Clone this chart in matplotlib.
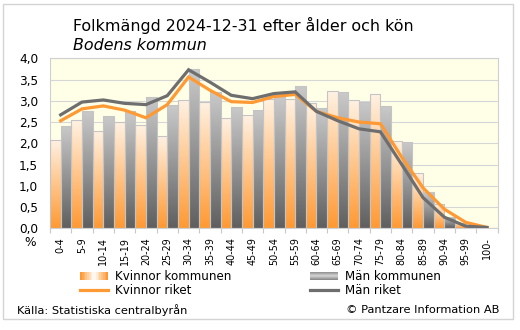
import matplotlib
matplotlib.use("Agg")
import matplotlib.pyplot as plt
import numpy as np
from matplotlib.colors import to_rgb
from matplotlib.legend_handler import HandlerBase
from matplotlib.patches import Rectangle
from matplotlib.lines import Line2D

# age groups and shares (%)
age_groups = ["0-4", "5-9", "10-14", "15-19", "20-24", "25-29", "30-34", "35-39",
              "40-44", "45-49", "50-54", "55-59", "60-64", "65-69", "70-74", "75-79",
              "80-84", "85-89", "90-94", "95-99", "100-"]

women_kommun = [2.08, 2.54, 2.29, 2.50, 2.43, 2.17, 3.03, 2.97, 2.59, 2.67, 3.04,
                3.05, 2.96, 3.23, 3.03, 3.17, 2.05, 1.31, 0.57, 0.12, 0.02]
men_kommun = [2.41, 2.76, 2.64, 2.75, 3.09, 2.89, 3.74, 3.21, 2.86, 2.78, 3.09,
              3.35, 2.84, 3.20, 2.98, 2.88, 2.03, 0.85, 0.27, 0.04, 0.00]
women_riket = [2.53, 2.81, 2.88, 2.78, 2.60, 2.91, 3.56, 3.25, 2.98, 2.96, 3.10,
               3.15, 2.75, 2.60, 2.50, 2.46, 1.67, 0.95, 0.45, 0.14, 0.02]
men_riket = [2.67, 2.97, 3.02, 2.94, 2.91, 3.12, 3.73, 3.44, 3.13, 3.05, 3.17,
             3.21, 2.75, 2.53, 2.34, 2.27, 1.50, 0.72, 0.26, 0.05, 0.02]

yticks = [0.0, 0.5, 1.0, 1.5, 2.0, 2.5, 3.0, 3.5, 4.0]

W_TOP, W_BOT = "#fff2e4", "#ff9933"
M_TOP, M_BOT = "#cacaca", "#5f5f5f"
ORANGE = "#ff9933"
GRAY = "#6e6e6e"
EDGE = "#c4c4c4"


def gradient(top, bottom, n=256):
    t = np.linspace(0, 1, n)[:, None]
    a, b = np.array(to_rgb(bottom)), np.array(to_rgb(top))
    return (a + (b - a) * t)[:, None, :]


def fill_bars(ax, bars, top, bottom):
    img = gradient(top, bottom)
    for p in bars:
        x, w, h = p.get_x(), p.get_width(), p.get_height()
        if h <= 0:
            continue
        im = ax.imshow(img, extent=[x, x + w, 0, h], origin="lower",
                       aspect="auto", zorder=2, interpolation="bilinear")
        im.set_clip_path(p)


class GradientHandler(HandlerBase):
    # legend key: light in the middle, darker towards the edges
    def __init__(self, edge, mid, vertical=False):
        super().__init__()
        self.edge = np.array(to_rgb(edge))
        self.mid = np.array(to_rgb(mid))
        self.vertical = vertical

    def create_artists(self, legend, orig_handle, xdescent, ydescent,
                       width, height, fontsize, trans):
        x0, y0 = -xdescent, -ydescent
        h = 8 * 72 / 100
        y0 = y0 + (height - h) / 2
        n = 16
        arts = []
        for k in range(n):
            t = abs(k / (n - 1) * 2 - 1)
            c = self.mid + (self.edge - self.mid) * t
            if self.vertical:
                r = Rectangle((x0, y0 + k * h / n), width, h / n + 0.2,
                              facecolor=c, edgecolor="none", transform=trans)
            else:
                r = Rectangle((x0 + k * width / n, y0), width / n + 0.2, h,
                              facecolor=c, edgecolor="none", transform=trans)
            arts.append(r)
        return arts


fig = plt.figure(figsize=(5.2, 3.3), dpi=100)
ax = fig.add_axes([50 / 520, 1 - 228.3 / 330, 447.7 / 520, 170 / 330])
ax.set_facecolor("#ffffe8")

x = np.arange(len(age_groups))
bw = 0.5
wb = ax.bar(x - bw / 2, women_kommun, bw, facecolor="none", edgecolor=EDGE,
            linewidth=0.8, zorder=3)
mb = ax.bar(x + bw / 2, men_kommun, bw, facecolor="none", edgecolor=EDGE,
            linewidth=0.8, zorder=3)
fill_bars(ax, wb, W_TOP, W_BOT)
fill_bars(ax, mb, M_TOP, M_BOT)

ax.plot(x, women_riket, color=ORANGE, lw=2.3, zorder=4, solid_joinstyle="miter")
ax.plot(x, men_riket, color=GRAY, lw=2.3, zorder=5, solid_joinstyle="miter")

ax.set_xlim(-0.5, len(age_groups) - 0.5)
ax.set_ylim(0, 4.0)
ax.set_yticks(yticks)
ax.set_yticklabels([f"{v:.1f}".replace(".", ",") for v in yticks], fontsize=8.7)
ax.yaxis.grid(True, color="#d6d6d6", lw=0.8, zorder=0)
ax.set_axisbelow(True)
ax.tick_params(axis="y", length=0, pad=8.5, colors="#000000")

ax.set_xticks(x)
ax.set_xticklabels(age_groups, rotation=90, fontsize=6.9)
ax.set_xticks(np.arange(len(age_groups) + 1) - 0.5, minor=True)
ax.tick_params(axis="x", which="major", length=0, pad=6.5)
ax.tick_params(axis="x", which="minor", length=3.5, color="#c8c8c8", width=0.8)
for s in ax.spines.values():
    s.set_color("#d0d0d0")
    s.set_linewidth(0.8)

fig.text(30 / 520, 1 - 243 / 330, "%", fontsize=8.7, ha="center", va="center")

fig.text(73 / 520, 1 - 31 / 330, "Folkmängd 2024-12-31 efter ålder och kön",
         fontsize=11.4, ha="left", va="baseline")
fig.text(73 / 520, 1 - 49.5 / 330, "Bodens kommun", fontsize=11.4,
         style="italic", ha="left", va="baseline")

h_wk = Rectangle((0, 0), 1, 1)
h_mk = Rectangle((0, 0), 1, 1)
h_wr = Line2D([], [], color=ORANGE, lw=2.3)
h_mr = Line2D([], [], color=GRAY, lw=2.3)
fig.legend([h_wk, h_wr, h_mk, h_mr],
           ["Kvinnor kommunen", "Kvinnor riket", "Män kommunen", "Män riket"],
           handler_map={h_wk: GradientHandler(W_BOT, "#ffffff"),
                        h_mk: GradientHandler("#8c8c8c", "#d4d4d4", vertical=True)},
           ncol=2, loc="upper left", bbox_to_anchor=(80 / 520, 1 - 270 / 330),
           frameon=False, fontsize=8.6, handlelength=2.35, handletextpad=0.58,
           columnspacing=6.6, labelspacing=0.08, borderpad=0, borderaxespad=0)

fig.text(17 / 520, 1 - 310 / 330, "Källa: Statistiska centralbyrån",
         fontsize=8.2, ha="left", va="center")
fig.text(499 / 520, 1 - 310 / 330, "© Pantzare Information AB",
         fontsize=8.2, ha="right", va="center")

fig.patches.append(Rectangle((3 / 520, 1 - 319 / 330), 510 / 520, 315 / 330,
                             transform=fig.transFigure, facecolor="none",
                             edgecolor="#d4d4d4", lw=1.0))

fig.savefig("out.png", dpi=100)
